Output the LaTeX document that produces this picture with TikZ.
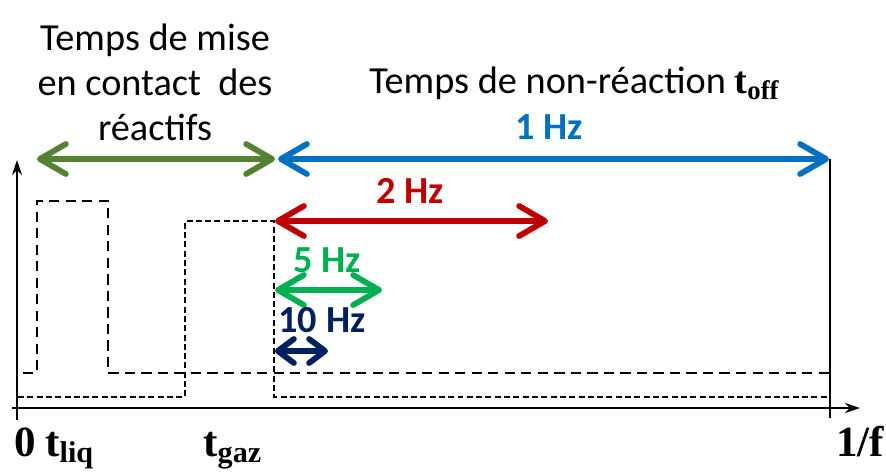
\documentclass[tikz,border=0pt]{standalone}
\usepackage{fontspec}
\setmainfont{Carlito}
\newfontfamily\timesfont{Liberation Serif}
\usepackage{xcolor}
\usetikzlibrary{arrows.meta, positioning}
\definecolor{olivegreen}{HTML}{548235}
\definecolor{hzblue}{HTML}{0070C0}
\definecolor{hzred}{HTML}{C00000}
\definecolor{hzgreen}{HTML}{00B050}
\definecolor{hznavy}{HTML}{002060}
\newcommand{\tlabel}[2]{{\timesfont\bfseries #1\textsubscript{#2}}}

\begin{document}
\begin{tikzpicture}[
    x=0.02cm, y=-0.02cm,
    txt/.style={font=\fontsize{21.8}{25.6}\selectfont, inner sep=0pt},
    hz/.style={font=\fontsize{21.8}{25.6}\selectfont\bfseries, inner sep=0pt, anchor=base},
    axlabel/.style={font=\fontsize{24.5}{27}\selectfont\timesfont\bfseries, inner sep=0pt, anchor=base west},
    span/.style={line width=3.3pt, line cap=round,
        {Straight Barb[length=0.52cm, width=0.6cm, round]}-{Straight Barb[length=0.52cm, width=0.6cm, round]}},
    smallspan/.style={line width=3.3pt, line cap=round,
        {Straight Barb[length=0.32cm, width=0.48cm, round]}-{Straight Barb[length=0.32cm, width=0.48cm, round]}},
    axis/.style={line width=1.2pt, -{Stealth[length=0.3cm, width=0.2cm]}},
    liq/.style={line width=1.5pt, dash pattern=on 5.8pt off 3.6pt},
    gaz/.style={line width=1.5pt, dash pattern=on 3.4pt off 1.9pt}
]
    \useasboundingbox (0,0) rectangle (886,471);

    %% axes
    \coordinate (ybot) at (17,420);
    \coordinate (ytop) at (17,160);
    \coordinate (xleft) at (12,408);
    \coordinate (xright) at (860,408);
    \draw[axis] (ybot) -- (ytop);
    \draw[axis] (xleft) -- (xright);

    %% end of period
    \coordinate (ftop) at (830,159);
    \coordinate (fbot) at (830,418);
    \draw[line width=1pt] (ftop) -- (fbot);

    %% liquid pulse
    \draw[liq] (23,373) -- (37,373) -- (37,201) -- (108,201) -- (108,373) -- (830,373);
    %% gas pulse
    \draw[gaz] (18,397) -- (185,397) -- (185,221) -- (274,221) -- (274,397) -- (830,397);

    %% time spans
    \coordinate (c0) at (37,159);
    \coordinate (c1) at (275,159);
    \coordinate (off0) at (278,159);
    \coordinate (off1) at (829,159);
    \coordinate (r0) at (275,221);
    \coordinate (r1) at (548,221);
    \coordinate (g0) at (275,290);
    \coordinate (g1) at (382,290);
    \coordinate (n0) at (275,351);
    \coordinate (n1) at (328,351);
    \draw[span, olivegreen] (c0) -- (c1);
    \draw[span, hzblue] (off0) -- (off1);
    \draw[span, hzred] (r0) -- (r1);
    \draw[span, hzgreen] (g0) -- (g1);
    \draw[smallspan, hznavy] (n0) -- (n1);

    %% labels
    \node[txt, align=center] (mise) at (155,82) {Temps de mise\\en contact~~des\\réactifs};
    \node[txt, anchor=base west] (toff) at (369,93) {Temps de non-réaction \tlabel{t}{off}};
    \node[hz, hzblue] (f1) at (549,139) {1 Hz};
    \node[hz, hzred] (f2) at (410,203) {2 Hz};
    \node[hz, hzgreen] (f5) at (327,272) {5 Hz};
    \node[hz, hznavy] (f10) at (322,332) {10 Hz};

    \node[axlabel] (zero) at (14,456) {0};
    \node[axlabel] (tliq) at (45,456) {t\textsubscript{liq}};
    \node[axlabel] (tgaz) at (203,456) {t\textsubscript{gaz}};
    \node[axlabel] (period) at (836,456) {1/f};
\end{tikzpicture}
\end{document}
